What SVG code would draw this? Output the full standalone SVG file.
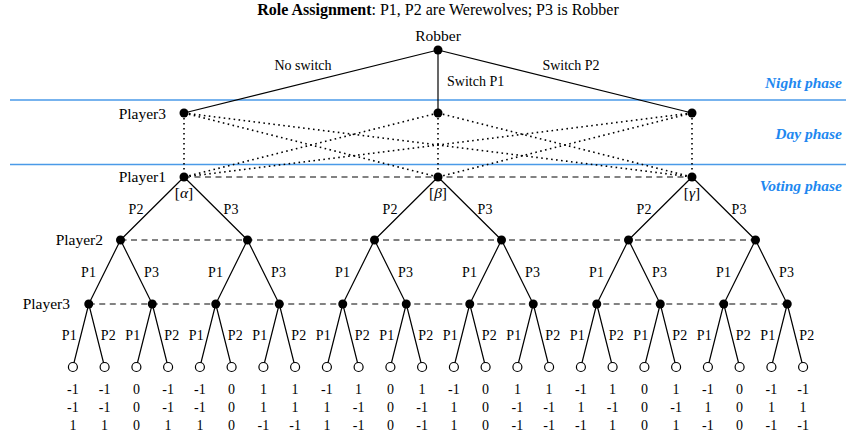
<svg xmlns="http://www.w3.org/2000/svg" width="846" height="438" viewBox="0 0 846 438">
<style>
text{font-family:"Liberation Serif","Times New Roman",serif;fill:#000}
.t{font-size:15.5px}
.e{font-size:14px}
.n{font-size:14px;text-anchor:middle}
.ph{font-size:15.5px;font-weight:bold;font-style:italic;fill:#1e88f0;text-anchor:end}
.blue{stroke:#4a9ae8;stroke-width:1.3}
.s{stroke:#000;stroke-width:1.2;fill:none}
.dash{stroke:#5a5a5a;stroke-width:1.3;stroke-dasharray:6 4.5;fill:none}
.dot{stroke:#000;stroke-width:1.6;stroke-dasharray:1.6 3.4;fill:none}
.d{fill:#000}
.o{fill:#fff;stroke:#000;stroke-width:1.2}
.lbl{font-size:14px;text-anchor:middle}
</style>
<text x="438" y="15" font-size="16" text-anchor="middle"><tspan font-weight="bold">Role Assignment</tspan>: P1, P2 are Werewolves; P3 is Robber</text>
<g id="phases">
<line class="blue" x1="10" y1="100" x2="846" y2="100"/>
<line class="blue" x1="10" y1="164.5" x2="846" y2="164.5"/>
<text class="ph" x="842" y="88">Night phase</text>
<text class="ph" x="842" y="139">Day phase</text>
<text class="ph" x="842" y="191">Voting phase</text>
</g>
<g id="connectors">
<line class="s" x1="438" y1="50" x2="184" y2="113"/>
<line class="s" x1="438" y1="50" x2="438" y2="113"/>
<line class="s" x1="438" y1="50" x2="692" y2="113"/>
<g class="dots">
<line class="dot" x1="184" y1="113" x2="184" y2="177"/>
<line class="dot" x1="184" y1="113" x2="438" y2="177"/>
<line class="dot" x1="184" y1="113" x2="692" y2="177"/>
<line class="dot" x1="438" y1="113" x2="184" y2="177"/>
<line class="dot" x1="438" y1="113" x2="438" y2="177"/>
<line class="dot" x1="438" y1="113" x2="692" y2="177"/>
<line class="dot" x1="692" y1="113" x2="184" y2="177"/>
<line class="dot" x1="692" y1="113" x2="438" y2="177"/>
<line class="dot" x1="692" y1="113" x2="692" y2="177"/>
</g>
<line class="dash" x1="184" y1="177" x2="692" y2="177"/>
<line class="dash" x1="120.5" y1="240" x2="755.5" y2="240"/>
<line class="dash" x1="88.75" y1="304" x2="787.25" y2="304"/>
<path class="s" d="M184 177L120.5 240M184 177L247.5 240M438 177L374.5 240M438 177L501.5 240M692 177L628.5 240M692 177L755.5 240"/>
<path class="s" d="M120.5 240L88.75 304M120.5 240L152.25 304M247.5 240L215.75 304M247.5 240L279.25 304M374.5 240L342.75 304M374.5 240L406.25 304M501.5 240L469.75 304M501.5 240L533.25 304M628.5 240L596.75 304M628.5 240L660.25 304M755.5 240L723.75 304M755.5 240L787.25 304"/>
<path class="s" d="M88.75 304L72.9 367M88.75 304L104.6 367M152.25 304L136.4 367M152.25 304L168.1 367M215.75 304L199.9 367M215.75 304L231.6 367M279.25 304L263.4 367M279.25 304L295.1 367M342.75 304L326.9 367M342.75 304L358.6 367M406.25 304L390.4 367M406.25 304L422.1 367M469.75 304L453.9 367M469.75 304L485.6 367M533.25 304L517.4 367M533.25 304L549.1 367M596.75 304L580.9 367M596.75 304L612.6 367M660.25 304L644.4 367M660.25 304L676.1 367M723.75 304L707.9 367M723.75 304L739.6 367M787.25 304L771.4 367M787.25 304L803.1 367"/>
<text class="lbl" x="303" y="70">No switch</text>
<text class="e" x="447" y="86">Switch P1</text>
<text class="lbl" x="571" y="70">Switch P2</text>
<g class="l1">
<text class="lbl" x="136" y="214">P2</text><text class="lbl" x="231" y="214">P3</text>
<text class="lbl" x="390" y="214">P2</text><text class="lbl" x="485" y="214">P3</text>
<text class="lbl" x="644" y="214">P2</text><text class="lbl" x="739" y="214">P3</text>
</g>
<g class="l2">
<text class="lbl" x="88.5" y="277">P1</text><text class="lbl" x="151.5" y="277">P3</text>
<text class="lbl" x="215.5" y="277">P1</text><text class="lbl" x="278.5" y="277">P3</text>
<text class="lbl" x="342.5" y="277">P1</text><text class="lbl" x="405.5" y="277">P3</text>
<text class="lbl" x="469.5" y="277">P1</text><text class="lbl" x="532.5" y="277">P3</text>
<text class="lbl" x="596.5" y="277">P1</text><text class="lbl" x="659.5" y="277">P3</text>
<text class="lbl" x="723.5" y="277">P1</text><text class="lbl" x="786.5" y="277">P3</text>
</g>
<g class="l3">
<text class="lbl" x="69.25" y="340">P1</text><text class="lbl" x="108.25" y="340">P2</text>
<text class="lbl" x="132.75" y="340">P1</text><text class="lbl" x="171.75" y="340">P2</text>
<text class="lbl" x="196.25" y="340">P1</text><text class="lbl" x="235.25" y="340">P2</text>
<text class="lbl" x="259.75" y="340">P1</text><text class="lbl" x="298.75" y="340">P2</text>
<text class="lbl" x="323.25" y="340">P1</text><text class="lbl" x="362.25" y="340">P2</text>
<text class="lbl" x="386.75" y="340">P1</text><text class="lbl" x="425.75" y="340">P2</text>
<text class="lbl" x="450.25" y="340">P1</text><text class="lbl" x="489.25" y="340">P2</text>
<text class="lbl" x="513.75" y="340">P1</text><text class="lbl" x="552.75" y="340">P2</text>
<text class="lbl" x="577.25" y="340">P1</text><text class="lbl" x="616.25" y="340">P2</text>
<text class="lbl" x="640.75" y="340">P1</text><text class="lbl" x="679.75" y="340">P2</text>
<text class="lbl" x="704.25" y="340">P1</text><text class="lbl" x="743.25" y="340">P2</text>
<text class="lbl" x="767.75" y="340">P1</text><text class="lbl" x="806.75" y="340">P2</text>
</g>
</g>
<g id="robber"><circle class="d" cx="438" cy="50" r="4.5"/><text class="t" x="438" y="41" text-anchor="middle">Robber</text></g>
<g id="day-nodes">
<text class="t" x="166" y="119" text-anchor="end">Player3</text>
<circle id="d1" class="d" cx="184" cy="113" r="4.5"/>
<circle id="d2" class="d" cx="438" cy="113" r="4.5"/>
<circle id="d3" class="d" cx="692" cy="113" r="4.5"/>
</g>
<g id="player1-nodes">
<text class="t" x="166" y="182" text-anchor="end">Player1</text>
<g id="alpha"><circle class="d" cx="184" cy="177" r="4.5"/><text class="t" x="184" y="198" text-anchor="middle">[<tspan font-style="italic">α</tspan>]</text></g>
<g id="beta"><circle class="d" cx="438" cy="177" r="4.5"/><text class="t" x="438" y="198" text-anchor="middle">[<tspan font-style="italic">β</tspan>]</text></g>
<g id="gamma"><circle class="d" cx="692" cy="177" r="4.5"/><text class="t" x="692" y="198" text-anchor="middle">[<tspan font-style="italic">γ</tspan>]</text></g>
</g>
<g id="player2-nodes">
<text class="t" x="103" y="245" text-anchor="end">Player2</text>
<circle class="d" cx="120.5" cy="240" r="4.5"/><circle class="d" cx="247.5" cy="240" r="4.5"/>
<circle class="d" cx="374.5" cy="240" r="4.5"/><circle class="d" cx="501.5" cy="240" r="4.5"/>
<circle class="d" cx="628.5" cy="240" r="4.5"/><circle class="d" cx="755.5" cy="240" r="4.5"/>
</g>
<g id="player3-nodes">
<text class="t" x="70" y="309" text-anchor="end">Player3</text>
<circle class="d" cx="88.75" cy="304" r="4.5"/><circle class="d" cx="152.25" cy="304" r="4.5"/>
<circle class="d" cx="215.75" cy="304" r="4.5"/><circle class="d" cx="279.25" cy="304" r="4.5"/>
<circle class="d" cx="342.75" cy="304" r="4.5"/><circle class="d" cx="406.25" cy="304" r="4.5"/>
<circle class="d" cx="469.75" cy="304" r="4.5"/><circle class="d" cx="533.25" cy="304" r="4.5"/>
<circle class="d" cx="596.75" cy="304" r="4.5"/><circle class="d" cx="660.25" cy="304" r="4.5"/>
<circle class="d" cx="723.75" cy="304" r="4.5"/><circle class="d" cx="787.25" cy="304" r="4.5"/>
</g>
<g id="leaves">
<circle class="o" cx="72.9" cy="367" r="4.5"/><circle class="o" cx="104.6" cy="367" r="4.5"/>
<circle class="o" cx="136.4" cy="367" r="4.5"/><circle class="o" cx="168.1" cy="367" r="4.5"/>
<circle class="o" cx="199.9" cy="367" r="4.5"/><circle class="o" cx="231.6" cy="367" r="4.5"/>
<circle class="o" cx="263.4" cy="367" r="4.5"/><circle class="o" cx="295.1" cy="367" r="4.5"/>
<circle class="o" cx="326.9" cy="367" r="4.5"/><circle class="o" cx="358.6" cy="367" r="4.5"/>
<circle class="o" cx="390.4" cy="367" r="4.5"/><circle class="o" cx="422.1" cy="367" r="4.5"/>
<circle class="o" cx="453.9" cy="367" r="4.5"/><circle class="o" cx="485.6" cy="367" r="4.5"/>
<circle class="o" cx="517.4" cy="367" r="4.5"/><circle class="o" cx="549.1" cy="367" r="4.5"/>
<circle class="o" cx="580.9" cy="367" r="4.5"/><circle class="o" cx="612.6" cy="367" r="4.5"/>
<circle class="o" cx="644.4" cy="367" r="4.5"/><circle class="o" cx="676.1" cy="367" r="4.5"/>
<circle class="o" cx="707.9" cy="367" r="4.5"/><circle class="o" cx="739.6" cy="367" r="4.5"/>
<circle class="o" cx="771.4" cy="367" r="4.5"/><circle class="o" cx="803.1" cy="367" r="4.5"/>
</g>
<g id="payoffs">
<text class="n" y="394"><tspan x="72.9">-1</tspan><tspan x="104.6">-1</tspan><tspan x="136.4">0</tspan><tspan x="168.1">-1</tspan><tspan x="199.9">-1</tspan><tspan x="231.6">0</tspan><tspan x="263.4">1</tspan><tspan x="295.1">1</tspan><tspan x="326.9">-1</tspan><tspan x="358.6">1</tspan><tspan x="390.4">0</tspan><tspan x="422.1">1</tspan><tspan x="453.9">-1</tspan><tspan x="485.6">0</tspan><tspan x="517.4">1</tspan><tspan x="549.1">1</tspan><tspan x="580.9">-1</tspan><tspan x="612.6">1</tspan><tspan x="644.4">0</tspan><tspan x="676.1">1</tspan><tspan x="707.9">-1</tspan><tspan x="739.6">0</tspan><tspan x="771.4">-1</tspan><tspan x="803.1">-1</tspan></text>
<text class="n" y="412"><tspan x="72.9">-1</tspan><tspan x="104.6">-1</tspan><tspan x="136.4">0</tspan><tspan x="168.1">-1</tspan><tspan x="199.9">-1</tspan><tspan x="231.6">0</tspan><tspan x="263.4">1</tspan><tspan x="295.1">1</tspan><tspan x="326.9">1</tspan><tspan x="358.6">-1</tspan><tspan x="390.4">0</tspan><tspan x="422.1">-1</tspan><tspan x="453.9">1</tspan><tspan x="485.6">0</tspan><tspan x="517.4">-1</tspan><tspan x="549.1">-1</tspan><tspan x="580.9">1</tspan><tspan x="612.6">-1</tspan><tspan x="644.4">0</tspan><tspan x="676.1">-1</tspan><tspan x="707.9">1</tspan><tspan x="739.6">0</tspan><tspan x="771.4">1</tspan><tspan x="803.1">1</tspan></text>
<text class="n" y="430"><tspan x="72.9">1</tspan><tspan x="104.6">1</tspan><tspan x="136.4">0</tspan><tspan x="168.1">1</tspan><tspan x="199.9">1</tspan><tspan x="231.6">0</tspan><tspan x="263.4">-1</tspan><tspan x="295.1">-1</tspan><tspan x="326.9">1</tspan><tspan x="358.6">-1</tspan><tspan x="390.4">0</tspan><tspan x="422.1">-1</tspan><tspan x="453.9">1</tspan><tspan x="485.6">0</tspan><tspan x="517.4">-1</tspan><tspan x="549.1">-1</tspan><tspan x="580.9">-1</tspan><tspan x="612.6">1</tspan><tspan x="644.4">0</tspan><tspan x="676.1">1</tspan><tspan x="707.9">-1</tspan><tspan x="739.6">0</tspan><tspan x="771.4">-1</tspan><tspan x="803.1">-1</tspan></text>
</g>
</svg>
